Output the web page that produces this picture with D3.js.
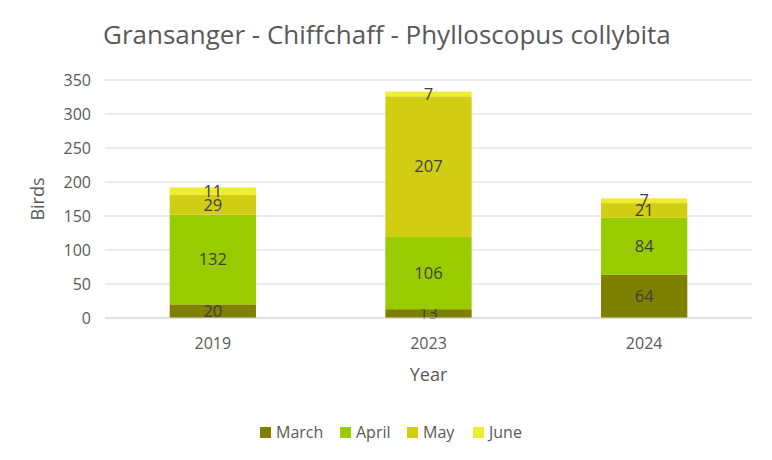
<!DOCTYPE html>
<html>
<head>
<meta charset="utf-8">
<script src="https://cdn.jsdelivr.net/npm/d3@7"></script>
<style>
  body { margin: 0; background: #fff; }
  text { font-family: "Open Sans", "Noto Sans", sans-serif; }
</style>
</head>
<body>
<svg id="chart"></svg>
<script>
// chart values
const years = ["2019", "2023", "2024"];
const months = ["March", "April", "May", "June"];
const march = [20, 13, 64];
const april = [132, 106, 84];
const may = [29, 207, 21];
const june = [11, 7, 7];
const yTicks = [0, 50, 100, 150, 200, 250, 300, 350];

const width = 772, height = 460;
const margin = {top: 80, right: 20, bottom: 142, left: 105};

const svg = d3.select("#chart")
    .attr("width", width)
    .attr("height", height);

const rows = years.map((y, i) => ({
    year: y, March: march[i], April: april[i], May: may[i], June: june[i]
}));

const stack = d3.stack().keys(months)(rows);

const x = d3.scaleBand()
    .domain(years)
    .range([margin.left, width - margin.right])
    .paddingInner(0.6)
    .paddingOuter(0.3);

const y = d3.scaleLinear()
    .domain([0, 350])
    .range([height - margin.bottom, margin.top]);

const color = d3.scaleOrdinal()
    .domain(months)
    .range(["#7f7f00", "#99cc00", "#d0cd12", "#eeeb33"]);

// gridlines
svg.append("g")
    .selectAll("line")
    .data(yTicks)
    .enter()
    .append("line")
    .attr("x1", margin.left)
    .attr("x2", width - margin.right)
    .attr("y1", d => y(d))
    .attr("y2", d => y(d))
    .attr("stroke", "#d9d9d9")
    .attr("stroke-width", 1);

// y tick labels
svg.append("g")
    .selectAll("text")
    .data(yTicks)
    .enter()
    .append("text")
    .attr("x", margin.left - 14)
    .attr("y", d => y(d))
    .attr("dy", "0.35em")
    .attr("text-anchor", "end")
    .attr("fill", "#595959")
    .attr("font-size", "16px")
    .text(d => d);

// bars
const layers = svg.append("g")
    .selectAll("g")
    .data(stack)
    .enter()
    .append("g")
    .attr("fill", d => color(d.key));

layers.selectAll("rect")
    .data(d => d)
    .enter()
    .append("rect")
    .attr("x", d => x(d.data.year))
    .attr("width", x.bandwidth())
    .attr("y", d => y(d[1]))
    .attr("height", d => y(d[0]) - y(d[1]));

// data labels
layers.selectAll("text")
    .data(d => d)
    .enter()
    .append("text")
    .attr("x", d => x(d.data.year) + x.bandwidth() / 2)
    .attr("y", d => (y(d[0]) + y(d[1])) / 2)
    .attr("dy", "0.35em")
    .attr("text-anchor", "middle")
    .attr("fill", "#404040")
    .attr("font-size", "16.5px")
    .text(d => d[1] - d[0]);

// x axis line
svg.append("line")
    .attr("x1", margin.left)
    .attr("x2", width - margin.right)
    .attr("y1", y(0))
    .attr("y2", y(0))
    .attr("stroke", "#d9d9d9");

// x tick labels
svg.append("g")
    .selectAll("text")
    .data(years)
    .enter()
    .append("text")
    .attr("x", d => x(d) + x.bandwidth() / 2)
    .attr("y", y(0) + 25)
    .attr("dy", "0.35em")
    .attr("text-anchor", "middle")
    .attr("fill", "#595959")
    .attr("font-size", "16px")
    .text(d => d);

// title
svg.append("text")
    .attr("x", 103)
    .attr("y", 44)
    .attr("fill", "#595959")
    .attr("font-size", "26px")
    .text("Gransanger - Chiffchaff - Phylloscopus collybita");

// axis titles
svg.append("text")
    .attr("x", (margin.left + width - margin.right) / 2)
    .attr("y", 375)
    .attr("dy", "0.35em")
    .attr("text-anchor", "middle")
    .attr("fill", "#595959")
    .attr("font-size", "18px")
    .text("Year");

svg.append("text")
    .attr("transform", `translate(38,${(y(0) + y(350)) / 2}) rotate(-90)`)
    .attr("dy", "0.35em")
    .attr("text-anchor", "middle")
    .attr("fill", "#595959")
    .attr("font-size", "18px")
    .text("Birds");

// legend
const legend = svg.append("g");
const legendX = [260, 340, 407, 473];
months.forEach((m, i) => {
    legend.append("rect")
        .attr("x", legendX[i])
        .attr("y", 427)
        .attr("width", 11)
        .attr("height", 11)
        .attr("fill", color(m));
    legend.append("text")
        .attr("x", legendX[i] + 16)
        .attr("y", 432)
        .attr("dy", "0.35em")
        .attr("fill", "#595959")
        .attr("font-size", "16px")
        .text(m);
});
</script>
</body>
</html>
